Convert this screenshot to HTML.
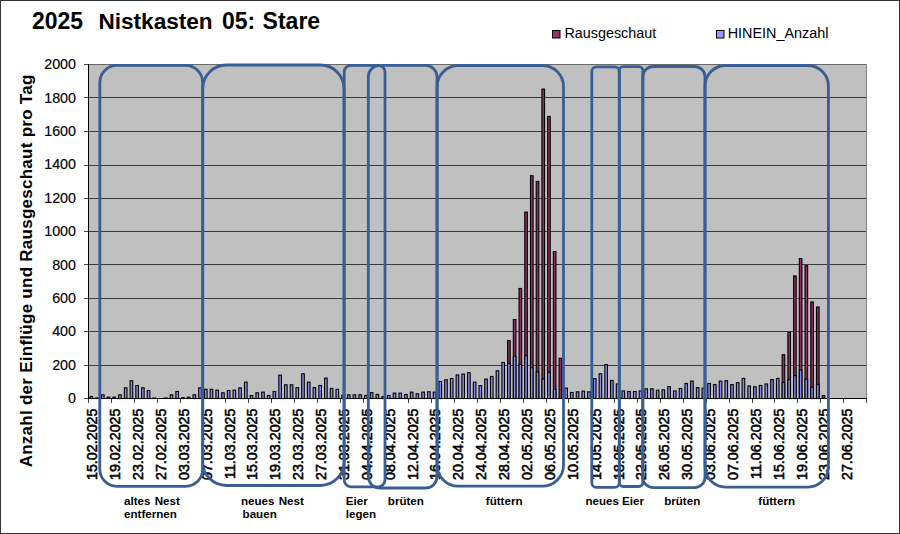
<!DOCTYPE html><html><head><meta charset="utf-8"><style>html,body{margin:0;padding:0;background:#fff;}svg{display:block;}text{font-family:"Liberation Sans",Arial,sans-serif;fill:#000;}</style></head><body>
<svg width="900" height="534" viewBox="0 0 900 534">
<rect x="0" y="0" width="900" height="534" fill="#fff"/>
<rect x="88" y="64" width="778.5" height="334.5" fill="#C0C0C0"/>
<path d="M88 398.5H866.5 M88 365.5H866.5 M88 331.5H866.5 M88 298.5H866.5 M88 264.5H866.5 M88 231.5H866.5 M88 198.5H866.5 M88 165.5H866.5 M88 131.5H866.5 M88 97.5H866.5" stroke="#3a3a3a" stroke-width="1" fill="none" shape-rendering="crispEdges"/>
<path d="M88 64.5H866.5" stroke="#6a6a6a" stroke-width="1" fill="none" shape-rendering="crispEdges"/>
<path d="M866.5 64V398" stroke="#808080" stroke-width="1" shape-rendering="crispEdges"/>
<rect x="90.06" y="396.50" width="2.6" height="2.00" fill="#8A8AEE" stroke="#000" stroke-width="1.1"/>
<rect x="95.78" y="398.00" width="2.6" height="0.50" fill="#8A8AEE" stroke="#000" stroke-width="1.1"/>
<rect x="101.50" y="394.83" width="2.6" height="3.67" fill="#8A8AEE" stroke="#000" stroke-width="1.1"/>
<rect x="107.22" y="397.16" width="2.6" height="1.34" fill="#8A8AEE" stroke="#000" stroke-width="1.1"/>
<rect x="112.94" y="397.16" width="2.6" height="1.34" fill="#8A8AEE" stroke="#000" stroke-width="1.1"/>
<rect x="118.66" y="394.83" width="2.6" height="3.67" fill="#8A8AEE" stroke="#000" stroke-width="1.1"/>
<rect x="124.38" y="387.81" width="2.6" height="10.69" fill="#8A8AEE" stroke="#000" stroke-width="1.1"/>
<rect x="130.10" y="380.80" width="2.6" height="17.70" fill="#8A8AEE" stroke="#000" stroke-width="1.1"/>
<rect x="135.82" y="385.47" width="2.6" height="13.03" fill="#8A8AEE" stroke="#000" stroke-width="1.1"/>
<rect x="141.54" y="387.81" width="2.6" height="10.69" fill="#8A8AEE" stroke="#000" stroke-width="1.1"/>
<rect x="147.26" y="390.48" width="2.6" height="8.02" fill="#8A8AEE" stroke="#000" stroke-width="1.1"/>
<rect x="152.98" y="398.00" width="2.6" height="0.50" fill="#8A8AEE" stroke="#000" stroke-width="1.1"/>
<rect x="164.42" y="398.00" width="2.6" height="0.50" fill="#8A8AEE" stroke="#000" stroke-width="1.1"/>
<rect x="170.14" y="394.83" width="2.6" height="3.67" fill="#8A8AEE" stroke="#000" stroke-width="1.1"/>
<rect x="175.86" y="391.49" width="2.6" height="7.01" fill="#8A8AEE" stroke="#000" stroke-width="1.1"/>
<rect x="181.58" y="397.67" width="2.6" height="0.84" fill="#8A8AEE" stroke="#000" stroke-width="1.1"/>
<rect x="187.30" y="397.16" width="2.6" height="1.34" fill="#8A8AEE" stroke="#000" stroke-width="1.1"/>
<rect x="193.02" y="394.83" width="2.6" height="3.67" fill="#8A8AEE" stroke="#000" stroke-width="1.1"/>
<rect x="198.74" y="387.81" width="2.6" height="10.69" fill="#8A8AEE" stroke="#000" stroke-width="1.1"/>
<rect x="204.46" y="389.31" width="2.6" height="9.19" fill="#8A8AEE" stroke="#000" stroke-width="1.1"/>
<rect x="210.18" y="389.31" width="2.6" height="9.19" fill="#8A8AEE" stroke="#000" stroke-width="1.1"/>
<rect x="215.90" y="390.15" width="2.6" height="8.35" fill="#8A8AEE" stroke="#000" stroke-width="1.1"/>
<rect x="221.62" y="392.82" width="2.6" height="5.68" fill="#8A8AEE" stroke="#000" stroke-width="1.1"/>
<rect x="227.34" y="390.48" width="2.6" height="8.02" fill="#8A8AEE" stroke="#000" stroke-width="1.1"/>
<rect x="233.06" y="390.15" width="2.6" height="8.35" fill="#8A8AEE" stroke="#000" stroke-width="1.1"/>
<rect x="238.78" y="387.81" width="2.6" height="10.69" fill="#8A8AEE" stroke="#000" stroke-width="1.1"/>
<rect x="244.50" y="382.13" width="2.6" height="16.37" fill="#8A8AEE" stroke="#000" stroke-width="1.1"/>
<rect x="250.22" y="395.49" width="2.6" height="3.01" fill="#8A8AEE" stroke="#000" stroke-width="1.1"/>
<rect x="255.94" y="392.82" width="2.6" height="5.68" fill="#8A8AEE" stroke="#000" stroke-width="1.1"/>
<rect x="261.66" y="392.15" width="2.6" height="6.35" fill="#8A8AEE" stroke="#000" stroke-width="1.1"/>
<rect x="267.38" y="395.49" width="2.6" height="3.01" fill="#8A8AEE" stroke="#000" stroke-width="1.1"/>
<rect x="273.10" y="391.49" width="2.6" height="7.01" fill="#8A8AEE" stroke="#000" stroke-width="1.1"/>
<rect x="278.82" y="375.12" width="2.6" height="23.38" fill="#8A8AEE" stroke="#000" stroke-width="1.1"/>
<rect x="284.53" y="384.81" width="2.6" height="13.69" fill="#8A8AEE" stroke="#000" stroke-width="1.1"/>
<rect x="290.25" y="384.81" width="2.6" height="13.69" fill="#8A8AEE" stroke="#000" stroke-width="1.1"/>
<rect x="295.97" y="387.64" width="2.6" height="10.86" fill="#8A8AEE" stroke="#000" stroke-width="1.1"/>
<rect x="301.69" y="373.78" width="2.6" height="24.72" fill="#8A8AEE" stroke="#000" stroke-width="1.1"/>
<rect x="307.41" y="382.13" width="2.6" height="16.37" fill="#8A8AEE" stroke="#000" stroke-width="1.1"/>
<rect x="313.13" y="387.64" width="2.6" height="10.86" fill="#8A8AEE" stroke="#000" stroke-width="1.1"/>
<rect x="318.85" y="385.47" width="2.6" height="13.03" fill="#8A8AEE" stroke="#000" stroke-width="1.1"/>
<rect x="324.57" y="378.13" width="2.6" height="20.37" fill="#8A8AEE" stroke="#000" stroke-width="1.1"/>
<rect x="330.29" y="388.48" width="2.6" height="10.02" fill="#8A8AEE" stroke="#000" stroke-width="1.1"/>
<rect x="336.01" y="389.31" width="2.6" height="9.19" fill="#8A8AEE" stroke="#000" stroke-width="1.1"/>
<rect x="341.73" y="395.16" width="2.6" height="3.34" fill="#8A8AEE" stroke="#000" stroke-width="1.1"/>
<rect x="347.45" y="394.83" width="2.6" height="3.67" fill="#8A8AEE" stroke="#000" stroke-width="1.1"/>
<rect x="353.17" y="394.83" width="2.6" height="3.67" fill="#8A8AEE" stroke="#000" stroke-width="1.1"/>
<rect x="358.89" y="394.83" width="2.6" height="3.67" fill="#8A8AEE" stroke="#000" stroke-width="1.1"/>
<rect x="364.61" y="395.49" width="2.6" height="3.01" fill="#8A8AEE" stroke="#000" stroke-width="1.1"/>
<rect x="370.33" y="392.65" width="2.6" height="5.85" fill="#8A8AEE" stroke="#000" stroke-width="1.1"/>
<rect x="376.05" y="394.49" width="2.6" height="4.01" fill="#8A8AEE" stroke="#000" stroke-width="1.1"/>
<rect x="381.77" y="396.66" width="2.6" height="1.84" fill="#8A8AEE" stroke="#000" stroke-width="1.1"/>
<rect x="387.49" y="395.49" width="2.6" height="3.01" fill="#8A8AEE" stroke="#000" stroke-width="1.1"/>
<rect x="393.21" y="393.16" width="2.6" height="5.34" fill="#8A8AEE" stroke="#000" stroke-width="1.1"/>
<rect x="398.93" y="393.16" width="2.6" height="5.34" fill="#8A8AEE" stroke="#000" stroke-width="1.1"/>
<rect x="404.65" y="394.49" width="2.6" height="4.01" fill="#8A8AEE" stroke="#000" stroke-width="1.1"/>
<rect x="410.37" y="392.15" width="2.6" height="6.35" fill="#8A8AEE" stroke="#000" stroke-width="1.1"/>
<rect x="416.09" y="393.82" width="2.6" height="4.68" fill="#8A8AEE" stroke="#000" stroke-width="1.1"/>
<rect x="421.81" y="392.15" width="2.6" height="6.35" fill="#8A8AEE" stroke="#000" stroke-width="1.1"/>
<rect x="427.53" y="391.82" width="2.6" height="6.68" fill="#8A8AEE" stroke="#000" stroke-width="1.1"/>
<rect x="433.25" y="392.15" width="2.6" height="6.35" fill="#8A8AEE" stroke="#000" stroke-width="1.1"/>
<rect x="438.97" y="381.47" width="2.6" height="17.03" fill="#8A8AEE" stroke="#000" stroke-width="1.1"/>
<rect x="444.69" y="379.80" width="2.6" height="18.70" fill="#8A8AEE" stroke="#000" stroke-width="1.1"/>
<rect x="450.41" y="378.46" width="2.6" height="20.04" fill="#8A8AEE" stroke="#000" stroke-width="1.1"/>
<rect x="456.13" y="374.95" width="2.6" height="23.55" fill="#8A8AEE" stroke="#000" stroke-width="1.1"/>
<rect x="461.85" y="374.12" width="2.6" height="24.38" fill="#8A8AEE" stroke="#000" stroke-width="1.1"/>
<rect x="467.57" y="372.62" width="2.6" height="25.89" fill="#8A8AEE" stroke="#000" stroke-width="1.1"/>
<rect x="473.29" y="382.13" width="2.6" height="16.37" fill="#8A8AEE" stroke="#000" stroke-width="1.1"/>
<rect x="479.01" y="385.64" width="2.6" height="12.86" fill="#8A8AEE" stroke="#000" stroke-width="1.1"/>
<rect x="484.73" y="379.13" width="2.6" height="19.37" fill="#8A8AEE" stroke="#000" stroke-width="1.1"/>
<rect x="490.45" y="376.46" width="2.6" height="22.04" fill="#8A8AEE" stroke="#000" stroke-width="1.1"/>
<rect x="496.17" y="370.78" width="2.6" height="27.72" fill="#8A8AEE" stroke="#000" stroke-width="1.1"/>
<rect x="501.89" y="362.43" width="2.6" height="36.07" fill="#8A8AEE" stroke="#000" stroke-width="1.1"/>
<rect x="507.61" y="340.55" width="2.6" height="57.95" fill="#8E2F5E" stroke="#000" stroke-width="1.1"/>
<rect x="507.61" y="363.26" width="2.6" height="35.24" fill="#8A8AEE" stroke="#000" stroke-width="1.1"/>
<rect x="513.33" y="319.51" width="2.6" height="78.99" fill="#8E2F5E" stroke="#000" stroke-width="1.1"/>
<rect x="513.33" y="356.25" width="2.6" height="42.25" fill="#8A8AEE" stroke="#000" stroke-width="1.1"/>
<rect x="519.05" y="288.45" width="2.6" height="110.05" fill="#8E2F5E" stroke="#000" stroke-width="1.1"/>
<rect x="519.05" y="364.26" width="2.6" height="34.23" fill="#8A8AEE" stroke="#000" stroke-width="1.1"/>
<rect x="524.77" y="212.13" width="2.6" height="186.37" fill="#8E2F5E" stroke="#000" stroke-width="1.1"/>
<rect x="524.77" y="355.75" width="2.6" height="42.75" fill="#8A8AEE" stroke="#000" stroke-width="1.1"/>
<rect x="530.49" y="175.72" width="2.6" height="222.78" fill="#8E2F5E" stroke="#000" stroke-width="1.1"/>
<rect x="530.49" y="367.77" width="2.6" height="30.73" fill="#8A8AEE" stroke="#000" stroke-width="1.1"/>
<rect x="536.21" y="181.40" width="2.6" height="217.10" fill="#8E2F5E" stroke="#000" stroke-width="1.1"/>
<rect x="536.21" y="371.95" width="2.6" height="26.55" fill="#8A8AEE" stroke="#000" stroke-width="1.1"/>
<rect x="541.93" y="89.05" width="2.6" height="309.45" fill="#8E2F5E" stroke="#000" stroke-width="1.1"/>
<rect x="541.93" y="378.96" width="2.6" height="19.54" fill="#8A8AEE" stroke="#000" stroke-width="1.1"/>
<rect x="547.65" y="116.44" width="2.6" height="282.06" fill="#8E2F5E" stroke="#000" stroke-width="1.1"/>
<rect x="547.65" y="372.28" width="2.6" height="26.22" fill="#8A8AEE" stroke="#000" stroke-width="1.1"/>
<rect x="553.37" y="251.54" width="2.6" height="146.96" fill="#8E2F5E" stroke="#000" stroke-width="1.1"/>
<rect x="553.37" y="389.15" width="2.6" height="9.35" fill="#8A8AEE" stroke="#000" stroke-width="1.1"/>
<rect x="559.09" y="358.25" width="2.6" height="40.25" fill="#8E2F5E" stroke="#000" stroke-width="1.1"/>
<rect x="564.81" y="388.15" width="2.6" height="10.35" fill="#8A8AEE" stroke="#000" stroke-width="1.1"/>
<rect x="570.53" y="392.49" width="2.6" height="6.01" fill="#8A8AEE" stroke="#000" stroke-width="1.1"/>
<rect x="576.25" y="391.82" width="2.6" height="6.68" fill="#8A8AEE" stroke="#000" stroke-width="1.1"/>
<rect x="581.97" y="391.15" width="2.6" height="7.35" fill="#8A8AEE" stroke="#000" stroke-width="1.1"/>
<rect x="587.69" y="391.82" width="2.6" height="6.68" fill="#8A8AEE" stroke="#000" stroke-width="1.1"/>
<rect x="593.41" y="378.63" width="2.6" height="19.87" fill="#8A8AEE" stroke="#000" stroke-width="1.1"/>
<rect x="599.13" y="373.78" width="2.6" height="24.72" fill="#8A8AEE" stroke="#000" stroke-width="1.1"/>
<rect x="604.85" y="364.60" width="2.6" height="33.90" fill="#8A8AEE" stroke="#000" stroke-width="1.1"/>
<rect x="610.57" y="380.46" width="2.6" height="18.04" fill="#8A8AEE" stroke="#000" stroke-width="1.1"/>
<rect x="616.29" y="383.97" width="2.6" height="14.53" fill="#8A8AEE" stroke="#000" stroke-width="1.1"/>
<rect x="622.01" y="390.99" width="2.6" height="7.52" fill="#8A8AEE" stroke="#000" stroke-width="1.1"/>
<rect x="627.73" y="391.49" width="2.6" height="7.01" fill="#8A8AEE" stroke="#000" stroke-width="1.1"/>
<rect x="633.45" y="391.49" width="2.6" height="7.01" fill="#8A8AEE" stroke="#000" stroke-width="1.1"/>
<rect x="639.17" y="390.99" width="2.6" height="7.52" fill="#8A8AEE" stroke="#000" stroke-width="1.1"/>
<rect x="644.89" y="388.81" width="2.6" height="9.69" fill="#8A8AEE" stroke="#000" stroke-width="1.1"/>
<rect x="650.61" y="388.81" width="2.6" height="9.69" fill="#8A8AEE" stroke="#000" stroke-width="1.1"/>
<rect x="656.33" y="390.15" width="2.6" height="8.35" fill="#8A8AEE" stroke="#000" stroke-width="1.1"/>
<rect x="662.05" y="389.82" width="2.6" height="8.68" fill="#8A8AEE" stroke="#000" stroke-width="1.1"/>
<rect x="667.77" y="386.64" width="2.6" height="11.86" fill="#8A8AEE" stroke="#000" stroke-width="1.1"/>
<rect x="673.48" y="390.99" width="2.6" height="7.52" fill="#8A8AEE" stroke="#000" stroke-width="1.1"/>
<rect x="679.20" y="388.48" width="2.6" height="10.02" fill="#8A8AEE" stroke="#000" stroke-width="1.1"/>
<rect x="684.92" y="383.47" width="2.6" height="15.03" fill="#8A8AEE" stroke="#000" stroke-width="1.1"/>
<rect x="690.64" y="381.13" width="2.6" height="17.37" fill="#8A8AEE" stroke="#000" stroke-width="1.1"/>
<rect x="696.36" y="387.64" width="2.6" height="10.86" fill="#8A8AEE" stroke="#000" stroke-width="1.1"/>
<rect x="702.08" y="388.15" width="2.6" height="10.35" fill="#8A8AEE" stroke="#000" stroke-width="1.1"/>
<rect x="707.80" y="383.47" width="2.6" height="15.03" fill="#8A8AEE" stroke="#000" stroke-width="1.1"/>
<rect x="713.52" y="384.64" width="2.6" height="13.86" fill="#8A8AEE" stroke="#000" stroke-width="1.1"/>
<rect x="719.24" y="381.13" width="2.6" height="17.37" fill="#8A8AEE" stroke="#000" stroke-width="1.1"/>
<rect x="724.96" y="380.63" width="2.6" height="17.87" fill="#8A8AEE" stroke="#000" stroke-width="1.1"/>
<rect x="730.68" y="384.64" width="2.6" height="13.86" fill="#8A8AEE" stroke="#000" stroke-width="1.1"/>
<rect x="736.40" y="382.63" width="2.6" height="15.87" fill="#8A8AEE" stroke="#000" stroke-width="1.1"/>
<rect x="742.12" y="378.46" width="2.6" height="20.04" fill="#8A8AEE" stroke="#000" stroke-width="1.1"/>
<rect x="747.84" y="385.98" width="2.6" height="12.53" fill="#8A8AEE" stroke="#000" stroke-width="1.1"/>
<rect x="753.56" y="386.81" width="2.6" height="11.69" fill="#8A8AEE" stroke="#000" stroke-width="1.1"/>
<rect x="759.28" y="385.47" width="2.6" height="13.03" fill="#8A8AEE" stroke="#000" stroke-width="1.1"/>
<rect x="765.00" y="383.97" width="2.6" height="14.53" fill="#8A8AEE" stroke="#000" stroke-width="1.1"/>
<rect x="770.72" y="379.63" width="2.6" height="18.87" fill="#8A8AEE" stroke="#000" stroke-width="1.1"/>
<rect x="776.44" y="378.46" width="2.6" height="20.04" fill="#8A8AEE" stroke="#000" stroke-width="1.1"/>
<rect x="782.16" y="354.75" width="2.6" height="43.75" fill="#8E2F5E" stroke="#000" stroke-width="1.1"/>
<rect x="782.16" y="382.47" width="2.6" height="16.03" fill="#8A8AEE" stroke="#000" stroke-width="1.1"/>
<rect x="787.88" y="332.37" width="2.6" height="66.13" fill="#8E2F5E" stroke="#000" stroke-width="1.1"/>
<rect x="787.88" y="379.63" width="2.6" height="18.87" fill="#8A8AEE" stroke="#000" stroke-width="1.1"/>
<rect x="793.60" y="275.92" width="2.6" height="122.58" fill="#8E2F5E" stroke="#000" stroke-width="1.1"/>
<rect x="793.60" y="375.62" width="2.6" height="22.88" fill="#8A8AEE" stroke="#000" stroke-width="1.1"/>
<rect x="799.32" y="258.55" width="2.6" height="139.95" fill="#8E2F5E" stroke="#000" stroke-width="1.1"/>
<rect x="799.32" y="370.11" width="2.6" height="28.39" fill="#8A8AEE" stroke="#000" stroke-width="1.1"/>
<rect x="805.04" y="265.74" width="2.6" height="132.77" fill="#8E2F5E" stroke="#000" stroke-width="1.1"/>
<rect x="805.04" y="378.96" width="2.6" height="19.54" fill="#8A8AEE" stroke="#000" stroke-width="1.1"/>
<rect x="810.76" y="301.97" width="2.6" height="96.53" fill="#8E2F5E" stroke="#000" stroke-width="1.1"/>
<rect x="810.76" y="387.14" width="2.6" height="11.36" fill="#8A8AEE" stroke="#000" stroke-width="1.1"/>
<rect x="816.48" y="306.98" width="2.6" height="91.52" fill="#8E2F5E" stroke="#000" stroke-width="1.1"/>
<rect x="816.48" y="384.31" width="2.6" height="14.20" fill="#8A8AEE" stroke="#000" stroke-width="1.1"/>
<rect x="822.20" y="395.49" width="2.6" height="3.01" fill="#8E2F5E" stroke="#000" stroke-width="1.1"/>
<path d="M88.5 64V398.5M84 398.5H866.5" stroke="#000" stroke-width="1" fill="none" shape-rendering="crispEdges"/>
<path d="M84 398.5H88 M84 365.5H88 M84 331.5H88 M84 298.5H88 M84 264.5H88 M84 231.5H88 M84 198.5H88 M84 165.5H88 M84 131.5H88 M84 97.5H88 M84 64.5H88 M88.5 398.5V403 M111.5 398.5V403 M134.5 398.5V403 M157.5 398.5V403 M180.5 398.5V403 M202.5 398.5V403 M225.5 398.5V403 M248.5 398.5V403 M271.5 398.5V403 M294.5 398.5V403 M317.5 398.5V403 M340.5 398.5V403 M363.5 398.5V403 M385.5 398.5V403 M408.5 398.5V403 M431.5 398.5V403 M454.5 398.5V403 M477.5 398.5V403 M500.5 398.5V403 M523.5 398.5V403 M546.5 398.5V403 M568.5 398.5V403 M591.5 398.5V403 M614.5 398.5V403 M637.5 398.5V403 M660.5 398.5V403 M683.5 398.5V403 M706.5 398.5V403 M729.5 398.5V403 M752.5 398.5V403 M774.5 398.5V403 M797.5 398.5V403 M820.5 398.5V403 M843.5 398.5V403 M866.5 398.5V403" stroke="#444" stroke-width="1" fill="none" shape-rendering="crispEdges"/>
<text x="76" y="403.1" font-size="14.3" text-anchor="end" stroke="#000" stroke-width="0.15">0</text>
<text x="76" y="369.7" font-size="14.3" text-anchor="end" stroke="#000" stroke-width="0.15">200</text>
<text x="76" y="336.3" font-size="14.3" text-anchor="end" stroke="#000" stroke-width="0.15">400</text>
<text x="76" y="302.9" font-size="14.3" text-anchor="end" stroke="#000" stroke-width="0.15">600</text>
<text x="76" y="269.5" font-size="14.3" text-anchor="end" stroke="#000" stroke-width="0.15">800</text>
<text x="76" y="236.1" font-size="14.3" text-anchor="end" stroke="#000" stroke-width="0.15">1000</text>
<text x="76" y="202.7" font-size="14.3" text-anchor="end" stroke="#000" stroke-width="0.15">1200</text>
<text x="76" y="169.3" font-size="14.3" text-anchor="end" stroke="#000" stroke-width="0.15">1400</text>
<text x="76" y="135.9" font-size="14.3" text-anchor="end" stroke="#000" stroke-width="0.15">1600</text>
<text x="76" y="102.5" font-size="14.3" text-anchor="end" stroke="#000" stroke-width="0.15">1800</text>
<text x="76" y="69.1" font-size="14.3" text-anchor="end" stroke="#000" stroke-width="0.15">2000</text>
<text transform="translate(97.30,408.5) rotate(-90)" font-size="14.3" text-anchor="end" stroke="#000" stroke-width="0.55">15.02.2025</text>
<text transform="translate(120.18,408.5) rotate(-90)" font-size="14.3" text-anchor="end" stroke="#000" stroke-width="0.55">19.02.2025</text>
<text transform="translate(143.06,408.5) rotate(-90)" font-size="14.3" text-anchor="end" stroke="#000" stroke-width="0.55">23.02.2025</text>
<text transform="translate(165.94,408.5) rotate(-90)" font-size="14.3" text-anchor="end" stroke="#000" stroke-width="0.55">27.02.2025</text>
<text transform="translate(188.82,408.5) rotate(-90)" font-size="14.3" text-anchor="end" stroke="#000" stroke-width="0.55">03.03.2025</text>
<text transform="translate(211.70,408.5) rotate(-90)" font-size="14.3" text-anchor="end" stroke="#000" stroke-width="0.55">07.03.2025</text>
<text transform="translate(234.58,408.5) rotate(-90)" font-size="14.3" text-anchor="end" stroke="#000" stroke-width="0.55">11.03.2025</text>
<text transform="translate(257.46,408.5) rotate(-90)" font-size="14.3" text-anchor="end" stroke="#000" stroke-width="0.55">15.03.2025</text>
<text transform="translate(280.34,408.5) rotate(-90)" font-size="14.3" text-anchor="end" stroke="#000" stroke-width="0.55">19.03.2025</text>
<text transform="translate(303.21,408.5) rotate(-90)" font-size="14.3" text-anchor="end" stroke="#000" stroke-width="0.55">23.03.2025</text>
<text transform="translate(326.09,408.5) rotate(-90)" font-size="14.3" text-anchor="end" stroke="#000" stroke-width="0.55">27.03.2025</text>
<text transform="translate(348.97,408.5) rotate(-90)" font-size="14.3" text-anchor="end" stroke="#000" stroke-width="0.55">31.03.2025</text>
<text transform="translate(371.85,408.5) rotate(-90)" font-size="14.3" text-anchor="end" stroke="#000" stroke-width="0.55">04.04.2025</text>
<text transform="translate(394.73,408.5) rotate(-90)" font-size="14.3" text-anchor="end" stroke="#000" stroke-width="0.55">08.04.2025</text>
<text transform="translate(417.61,408.5) rotate(-90)" font-size="14.3" text-anchor="end" stroke="#000" stroke-width="0.55">12.04.2025</text>
<text transform="translate(440.49,408.5) rotate(-90)" font-size="14.3" text-anchor="end" stroke="#000" stroke-width="0.55">16.04.2025</text>
<text transform="translate(463.37,408.5) rotate(-90)" font-size="14.3" text-anchor="end" stroke="#000" stroke-width="0.55">20.04.2025</text>
<text transform="translate(486.25,408.5) rotate(-90)" font-size="14.3" text-anchor="end" stroke="#000" stroke-width="0.55">24.04.2025</text>
<text transform="translate(509.13,408.5) rotate(-90)" font-size="14.3" text-anchor="end" stroke="#000" stroke-width="0.55">28.04.2025</text>
<text transform="translate(532.01,408.5) rotate(-90)" font-size="14.3" text-anchor="end" stroke="#000" stroke-width="0.55">02.05.2025</text>
<text transform="translate(554.89,408.5) rotate(-90)" font-size="14.3" text-anchor="end" stroke="#000" stroke-width="0.55">06.05.2025</text>
<text transform="translate(577.77,408.5) rotate(-90)" font-size="14.3" text-anchor="end" stroke="#000" stroke-width="0.55">10.05.2025</text>
<text transform="translate(600.65,408.5) rotate(-90)" font-size="14.3" text-anchor="end" stroke="#000" stroke-width="0.55">14.05.2025</text>
<text transform="translate(623.53,408.5) rotate(-90)" font-size="14.3" text-anchor="end" stroke="#000" stroke-width="0.55">18.05.2025</text>
<text transform="translate(646.41,408.5) rotate(-90)" font-size="14.3" text-anchor="end" stroke="#000" stroke-width="0.55">22.05.2025</text>
<text transform="translate(669.29,408.5) rotate(-90)" font-size="14.3" text-anchor="end" stroke="#000" stroke-width="0.55">26.05.2025</text>
<text transform="translate(692.16,408.5) rotate(-90)" font-size="14.3" text-anchor="end" stroke="#000" stroke-width="0.55">30.05.2025</text>
<text transform="translate(715.04,408.5) rotate(-90)" font-size="14.3" text-anchor="end" stroke="#000" stroke-width="0.55">03.06.2025</text>
<text transform="translate(737.92,408.5) rotate(-90)" font-size="14.3" text-anchor="end" stroke="#000" stroke-width="0.55">07.06.2025</text>
<text transform="translate(760.80,408.5) rotate(-90)" font-size="14.3" text-anchor="end" stroke="#000" stroke-width="0.55">11.06.2025</text>
<text transform="translate(783.68,408.5) rotate(-90)" font-size="14.3" text-anchor="end" stroke="#000" stroke-width="0.55">15.06.2025</text>
<text transform="translate(806.56,408.5) rotate(-90)" font-size="14.3" text-anchor="end" stroke="#000" stroke-width="0.55">19.06.2025</text>
<text transform="translate(829.44,408.5) rotate(-90)" font-size="14.3" text-anchor="end" stroke="#000" stroke-width="0.55">23.06.2025</text>
<text transform="translate(852.32,408.5) rotate(-90)" font-size="14.3" text-anchor="end" stroke="#000" stroke-width="0.55">27.06.2025</text>
<text transform="translate(32.1,467.3) rotate(-90)" font-size="17" font-weight="bold" textLength="392.6" lengthAdjust="spacing">Anzahl der Einflüge und Rausgeschaut pro Tag</text>
<text x="31.9" y="28.8" font-size="23" font-weight="bold">2025</text>
<text x="98.4" y="28.8" font-size="22.6" font-weight="bold">Nistkasten</text>
<text x="221.9" y="28.8" font-size="23" font-weight="bold">05:</text>
<text x="262.6" y="28.8" font-size="23" font-weight="bold">Stare</text>
<rect x="552.5" y="30.5" width="7.5" height="7.5" fill="#993366" stroke="#000" stroke-width="1"/>
<text x="564.4" y="38.2" font-size="14" textLength="91.9" lengthAdjust="spacingAndGlyphs">Rausgeschaut</text>
<rect x="716.5" y="30.5" width="7.5" height="7.5" fill="#9999FF" stroke="#000" stroke-width="1"/>
<text x="727.7" y="38.4" font-size="14" textLength="100.8" lengthAdjust="spacingAndGlyphs">HINEIN_Anzahl</text>
<rect x="99.8" y="65.4" width="102.9" height="420.9" rx="17.1" ry="17.1" fill="none" stroke="#395E93" stroke-width="2.8"/>
<rect x="202.7" y="65.0" width="141.3" height="420.5" rx="23.6" ry="23.6" fill="none" stroke="#395E93" stroke-width="2.8"/>
<rect x="344.2" y="65.3" width="40.8" height="421.5" rx="6.8" ry="6.8" fill="none" stroke="#395E93" stroke-width="2.8"/>
<rect x="368.3" y="65.3" width="68.7" height="422.7" rx="11.4" ry="11.4" fill="none" stroke="#395E93" stroke-width="2.8"/>
<rect x="437.1" y="65.5" width="126.4" height="420.7" rx="21.1" ry="21.1" fill="none" stroke="#395E93" stroke-width="2.8"/>
<rect x="591.8" y="66.8" width="27.5" height="420.5" rx="4.6" ry="4.6" fill="none" stroke="#395E93" stroke-width="2.8"/>
<rect x="619.3" y="66.6" width="23.5" height="419.9" rx="3.9" ry="3.9" fill="none" stroke="#395E93" stroke-width="2.8"/>
<rect x="642.8" y="66.5" width="62.2" height="421.1" rx="10.4" ry="10.4" fill="none" stroke="#395E93" stroke-width="2.8"/>
<rect x="705.0" y="65.5" width="123.4" height="421.6" rx="20.6" ry="20.6" fill="none" stroke="#395E93" stroke-width="2.8"/>
<text x="124.0" y="504.5" font-size="11.6" font-weight="bold">altes</text>
<text x="179.8" y="504.5" font-size="11.6" font-weight="bold" text-anchor="end">Nest</text>
<text x="124.0" y="517.8" font-size="11.6" font-weight="bold">entfernen</text>
<text x="241.0" y="504.5" font-size="11.6" font-weight="bold">neues</text>
<text x="303.8" y="504.5" font-size="11.6" font-weight="bold" text-anchor="end">Nest</text>
<text x="242.6" y="517.8" font-size="11.6" font-weight="bold">bauen</text>
<text x="345.8" y="504.5" font-size="11.6" font-weight="bold">Eier</text>
<text x="345.8" y="517.8" font-size="11.6" font-weight="bold">legen</text>
<text x="387.8" y="504.5" font-size="11.6" font-weight="bold">brüten</text>
<text x="485.8" y="504.5" font-size="11.6" font-weight="bold">füttern</text>
<text x="585.5" y="504.5" font-size="11.6" font-weight="bold">neues</text>
<text x="622.0" y="504.5" font-size="11.6" font-weight="bold">Eier</text>
<text x="664.2" y="504.5" font-size="11.6" font-weight="bold">brüten</text>
<text x="758.3" y="504.5" font-size="11.6" font-weight="bold">füttern</text>
<rect x="0.5" y="0.5" width="899" height="533" fill="none" stroke="#333" stroke-width="1"/>
</svg></body></html>
